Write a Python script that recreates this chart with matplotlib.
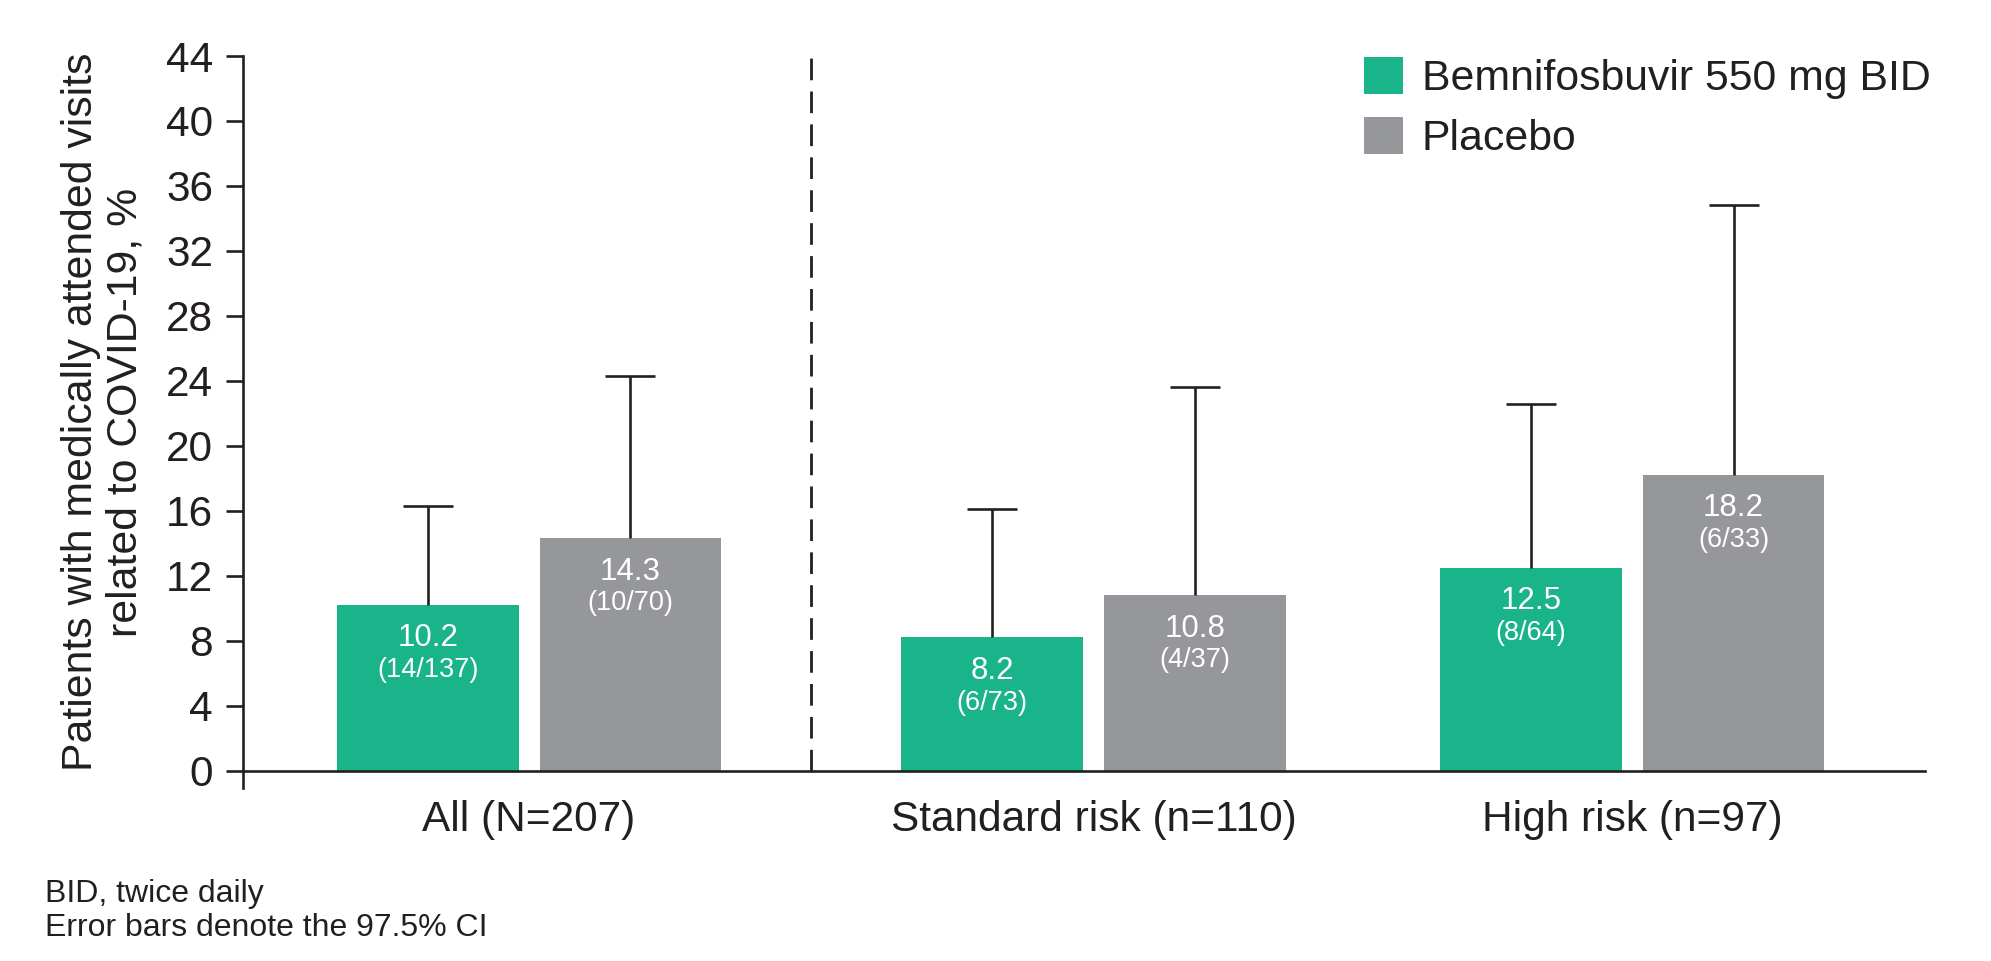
import numpy as np
import matplotlib
matplotlib.use("Agg")
import matplotlib.pyplot as plt
from matplotlib.patches import Patch

plt.rcParams['font.family'] = ['Liberation Sans', 'DejaVu Sans']

# ---- data ----
categories = ["All (N=207)", "Standard risk (n=110)", "High risk (n=97)"]
series_names = ["Bemnifosbuvir 550 mg BID", "Placebo"]
bem_values = [10.2, 8.2, 12.5]
pla_values = [14.3, 10.8, 18.2]
bem_upper_ci = [16.3, 16.1, 22.6]
pla_upper_ci = [24.3, 23.6, 34.8]
bem_counts = ["(14/137)", "(6/73)", "(8/64)"]
pla_counts = ["(10/70)", "(4/37)", "(6/33)"]
yticks = list(range(0, 45, 4))
ylabel = "Patients with medically attended visits\nrelated to COVID-19, %"
footnotes = ["BID, twice daily", "Error bars denote the 97.5% CI"]

# ---- style ----
GREEN = "#19B48A"
GRAY = "#96979B"
DARK = "#231F20"

fig = plt.figure(figsize=(19.91, 9.61), dpi=100)
ax = fig.add_axes([0.1219, 0.18, 0.845, 0.7617])

xpos = np.array([0.0, 1.0475, 2.0475])
width = 0.337
off = 0.188

for vals, upp, counts, color, dx in [
    (bem_values, bem_upper_ci, bem_counts, GREEN, -off),
    (pla_values, pla_upper_ci, pla_counts, GRAY, off),
]:
    vals = np.array(vals)
    upp = np.array(upp)
    xs = xpos + dx
    ax.bar(xs, vals, width=width, color=color, zorder=2)
    _, caps, _ = ax.errorbar(xs, vals, yerr=[np.zeros_like(vals), upp - vals],
                             fmt='none', ecolor=DARK, elinewidth=1.9,
                             capsize=18, capthick=1.9, zorder=3)
    caps[0].set_visible(False)
    for x, v, c in zip(xs, vals, counts):
        ax.annotate(f"{v:.1f}", xy=(x, v), xytext=(0, -13.2),
                    textcoords='offset points', ha='center', va='top',
                    fontsize=22.5, color='white', zorder=4)
        ax.annotate(c, xy=(x, v), xytext=(0, -37.5),
                    textcoords='offset points', ha='center', va='top',
                    fontsize=19.5, color='white', zorder=4)

# divider
ax.vlines((xpos[0] + xpos[1]) / 2, 0, 44, colors=DARK, linewidth=2,
          linestyles=(0, (7.8, 4.05)), zorder=1)

ax.set_xlim(-0.5315, 2.591)
ax.set_ylim(-1.07, 44)
ax.set_yticks(yticks)
ax.set_yticklabels([str(t) for t in yticks])
ax.set_xticks(xpos)
ax.set_xticklabels(categories)

for s in ['top', 'right']:
    ax.spines[s].set_visible(False)
ax.spines['bottom'].set_position(('data', 0))
for s in ['left', 'bottom']:
    ax.spines[s].set_linewidth(1.9)
    ax.spines[s].set_color(DARK)

ax.tick_params(axis='y', length=12, width=1.9, pad=9.4, labelsize=30.5,
               colors=DARK)
ax.tick_params(axis='x', length=0, pad=21, labelsize=30.5, colors=DARK)

ax.set_ylabel(ylabel, fontsize=30.8, color=DARK, linespacing=1.12)
ax.yaxis.set_label_coords(-0.058, 0.5137)

handles = [Patch(facecolor=GREEN, edgecolor='none'),
           Patch(facecolor=GRAY, edgecolor='none')]
fig.legend(handles, series_names, loc='upper left',
           bbox_to_anchor=(1364 / 1991, 1 - 57 / 961),
           bbox_transform=fig.transFigure, frameon=False, fontsize=30.8,
           handlelength=0.9, handleheight=0.95, handletextpad=0.45,
           labelspacing=0.42, borderpad=0, borderaxespad=0,
           labelcolor=DARK)

fig.text(45 / 1991, 1 - 901.7 / 961, footnotes[0], fontsize=23,
         color=DARK, ha='left', va='baseline')
fig.text(45 / 1991, 1 - 936 / 961, footnotes[1], fontsize=23,
         color=DARK, ha='left', va='baseline')

fig.savefig("out.png", dpi=100)
